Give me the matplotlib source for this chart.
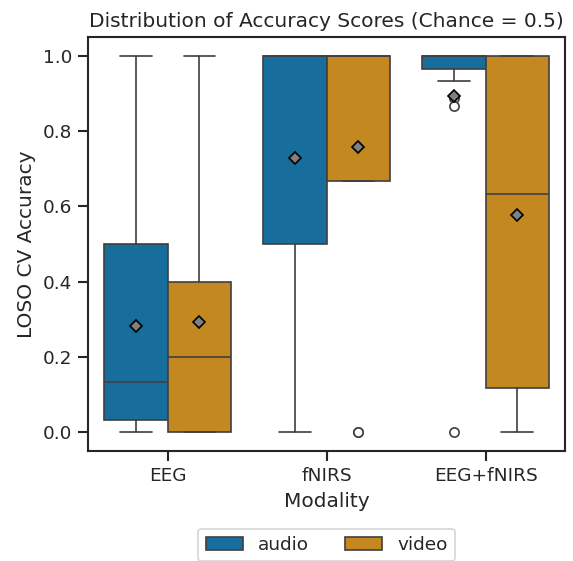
import matplotlib.pyplot as plt
import seaborn as sns

sns.set_theme(style="ticks", context="notebook")

modalities = ["EEG", "fNIRS", "EEG+fNIRS"]
conditions = ["audio", "video"]

# box stats: (whislo, q1, med, q3, whishi)
audio_whislo = [0.0, 0.0, 0.934]
audio_q1 = [0.032, 0.5, 0.965]
audio_med = [0.133, 1.0, 1.0]
audio_q3 = [0.5, 1.0, 1.0]
audio_whishi = [1.0, 1.0, 1.0]
audio_mean = [0.281, 0.729, 0.893]
audio_fliers = [[], [], [0.889, 0.867, 0.0]]

video_whislo = [0.0, 0.667, 0.0]
video_q1 = [0.0, 0.667, 0.117]
video_med = [0.2, 1.0, 0.634]
video_q3 = [0.4, 1.0, 1.0]
video_whishi = [1.0, 1.0, 1.0]
video_mean = [0.294, 0.758, 0.578]
video_fliers = [[], [0.0, 0.0], []]

pal = sns.color_palette("colorblind")
colors = [sns.desaturate(pal[0], 0.75), sns.desaturate(pal[1], 0.75)]
line_c = "#404040"

series = [
    (audio_whislo, audio_q1, audio_med, audio_q3, audio_whishi, audio_mean, audio_fliers),
    (video_whislo, video_q1, video_med, video_q3, video_whishi, video_mean, video_fliers),
]

dpi = 121
fig, ax = plt.subplots(figsize=(573 / dpi, 561 / dpi), dpi=dpi)
fig.subplots_adjust(left=0.154, right=0.986, top=0.934, bottom=0.196)

w = 0.4
lw = 1.0
for j, (lo, q1, med, q3, hi, mean, fl) in enumerate(series):
    stats = []
    for i in range(len(modalities)):
        stats.append(dict(whislo=lo[i], q1=q1[i], med=med[i], q3=q3[i],
                          whishi=hi[i], mean=mean[i], fliers=fl[i]))
    pos = [i - w / 2 + j * w for i in range(len(modalities))]
    ax.bxp(stats, positions=pos, widths=w, patch_artist=True, showmeans=True,
           boxprops=dict(facecolor=colors[j], edgecolor=line_c, linewidth=lw),
           medianprops=dict(color=line_c, linewidth=lw),
           whiskerprops=dict(color=line_c, linewidth=lw),
           capprops=dict(color=line_c, linewidth=lw),
           capwidths=w / 2,
           flierprops=dict(marker="o", markerfacecolor="white", markeredgecolor=line_c,
                           markersize=5.5),
           meanprops=dict(marker="D", markerfacecolor="gray", markeredgecolor="black",
                          markersize=5),
           manage_ticks=False)

ax.set_xlim(-0.5, 2.5)
ax.set_ylim(-0.05, 1.05)
ax.set_xticks(range(len(modalities)))
ax.set_xticklabels(modalities)
ax.set_xlabel("Modality")
ax.set_ylabel("LOSO CV Accuracy")
ax.set_title("Distribution of Accuracy Scores (Chance = 0.5)")

handles = [plt.Rectangle((0, 0), 1, 1, facecolor=c, edgecolor=line_c) for c in colors]
ax.legend(handles, conditions, loc="upper center", bbox_to_anchor=(0.5, -0.165), ncol=2)

fig.savefig("out.png", dpi=dpi)
